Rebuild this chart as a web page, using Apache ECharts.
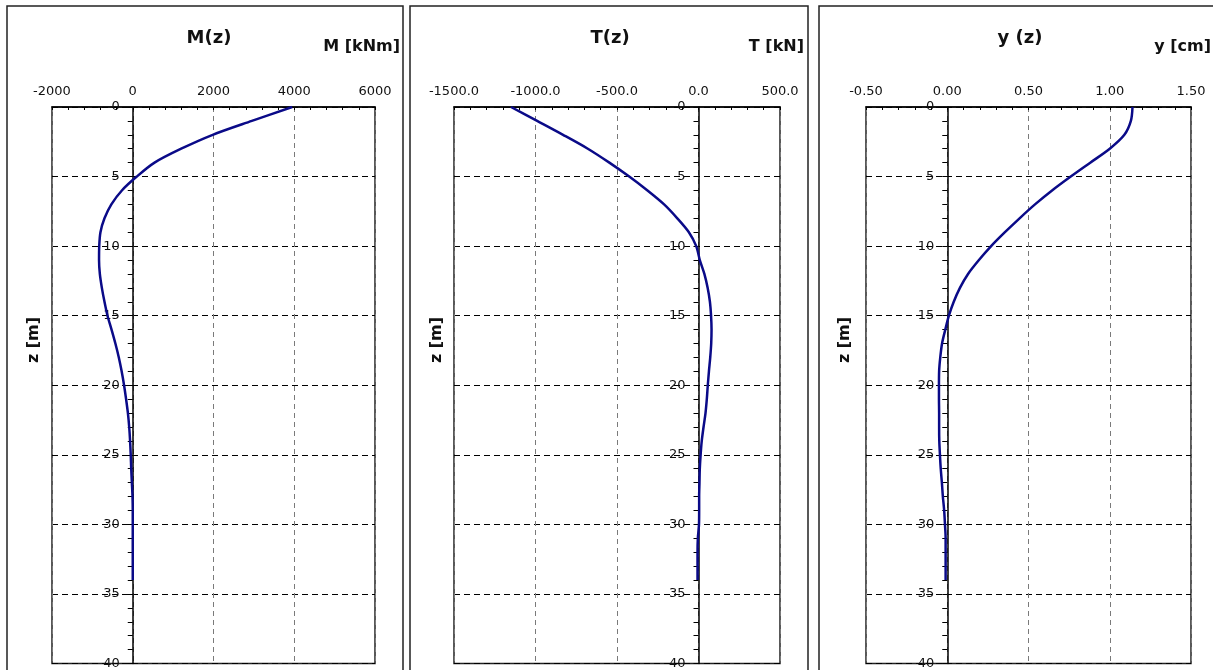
<!DOCTYPE html>
<html>
<head>
<meta charset="utf-8">
<script src="https://cdn.jsdelivr.net/npm/echarts@6/dist/echarts.min.js"></script>
<style>
html,body{margin:0;padding:0;background:#fff;}
#chart{width:1213px;height:670px;}
</style>
</head>
<body>
<div id="chart"></div>
<script>
// depth z [m]
const zDepth = [0,1,2,3,4,5,6,7,8,9,10,11,12,13,14,15,16,17,18,19,20,21,22,23,24,25,26,27,28,29,30,31,32,33,34];
// bending moment M [kNm]
const momentM = [3950,2950,1980,1200,540,100,-270,-530,-700,-800,-830,-835,-815,-765,-700,-625,-525,-430,-345,-275,-215,-165,-120,-88,-66,-50,-38,-22,-6,0,0,0,0,0,0];
// shear T [kN]
const shearT = [-1150,-990,-831,-679,-547,-425,-313,-211,-130,-59,-14,8,36,56,70,77,80,78,72,64,57,51,43,31,20,13,8,6,4,4,3,-4,-6,-6,-6];
// displacement y [cm]
const dispY = [1.14,1.13,1.09,1.00,0.88,0.76,0.645,0.54,0.445,0.355,0.27,0.195,0.128,0.078,0.04,0.01,-0.012,-0.032,-0.043,-0.05,-0.051,-0.051,-0.05,-0.05,-0.049,-0.045,-0.04,-0.033,-0.027,-0.019,-0.014,-0.01,-0.01,-0.01,-0.01];

// axis ranges [min, max, interval]
const mAxis = [-2000, 6000, 2000];
const tAxis = [-1500, 500, 500];
const yAxisRange = [-0.5, 1.5, 0.5];
const zAxis = [0, 40, 5];

const panelTitles = ['M(z)', 'T(z)', 'y (z)'];
const unitLabels = ['M [kNm]', 'T [kN]', 'y [cm]'];
const depthLabel = 'z [m]';

const FONT = '"DejaVu Sans", Verdana, sans-serif';
const lineColor = '#0a0a88';

const grids = [
  {left: 52, top: 107, width: 323, height: 559},
  {left: 454, top: 107, width: 326, height: 559},
  {left: 866, top: 107, width: 325, height: 559}
];
const frames = [{x: 7, w: 396}, {x: 410, w: 398}, {x: 819, w: 398}];
const titleX = [209, 610, 1020];
const unitRight = [400, 804, 1211];
const zLabelX = [34, 437, 845];
const xRanges = [mAxis, tAxis, yAxisRange];

function xAxisDef(idx, range, decimals) {
  return {
    type: 'value', gridIndex: idx, position: 'top',
    min: range[0], max: range[1], interval: range[2],
    axisLine: {onZero: false, lineStyle: {color: '#000', width: 1.5}},
    axisTick: {show: true, inside: true, length: 3, lineStyle: {color: '#000'}},
    minorTick: {show: true, splitNumber: 5, length: 3, lineStyle: {color: '#000'}},
    axisLabel: {margin: 9, fontSize: 13, fontFamily: FONT, color: '#111',
      formatter: v => decimals === null ? String(v) : v.toFixed(decimals)},
    splitLine: {show: true, lineStyle: {color: '#7a7a7a', width: 1, type: [5, 4]}}
  };
}
function yAxisDef(idx) {
  const r = xRanges[idx];
  // place the depth axis on the zero of the value axis
  const zeroOffset = -(0 - r[0]) / (r[1] - r[0]) * grids[idx].width;
  return {
    type: 'value', gridIndex: idx, inverse: true, position: 'left', offset: zeroOffset,
    min: zAxis[0], max: zAxis[1], interval: zAxis[2],
    axisLine: {onZero: false, lineStyle: {color: '#000', width: 1.5}},
    axisTick: {show: true, length: 5, lineStyle: {color: '#000'}},
    minorTick: {show: true, splitNumber: 5, length: 5, lineStyle: {color: '#000'}},
    axisLabel: {margin: 13, fontSize: 13, fontFamily: FONT, color: '#111'},
    splitLine: {show: true, lineStyle: {color: '#000', width: 1.2, type: [6, 4]}}
  };
}
function pairs(values) {
  return zDepth.map((z, i) => [values[i], z]);
}

const graphics = [];
frames.forEach(f => graphics.push({type: 'rect', silent: true, z: 0,
  shape: {x: f.x, y: 6, width: f.w, height: 720},
  style: {fill: 'none', stroke: '#222', lineWidth: 1.5}}));
panelTitles.forEach((t, i) => graphics.push({type: 'text', x: titleX[i], y: 38,
  style: {text: t, font: 'bold 18px ' + FONT, fill: '#111', align: 'center', verticalAlign: 'middle', textAlign: 'center', textVerticalAlign: 'middle'}}));
unitLabels.forEach((t, i) => graphics.push({type: 'text', x: unitRight[i], y: 47,
  style: {text: t, font: 'bold 16px ' + FONT, fill: '#111', align: 'right', verticalAlign: 'middle', textAlign: 'right', textVerticalAlign: 'middle'}}));
zLabelX.forEach(x => graphics.push({type: 'text', x: x, y: 340, rotation: Math.PI / 2,
  style: {text: depthLabel, font: 'bold 16px ' + FONT, fill: '#111', align: 'center', verticalAlign: 'middle', textAlign: 'center', textVerticalAlign: 'middle'}}));

const option = {
  animation: false,
  backgroundColor: '#fff',
  grid: grids.map(g => Object.assign({show: true, borderColor: '#222', borderWidth: 1.5, backgroundColor: 'transparent'}, g)),
  xAxis: [xAxisDef(0, mAxis, null), xAxisDef(1, tAxis, 1), xAxisDef(2, yAxisRange, 2)],
  yAxis: [yAxisDef(0), yAxisDef(1), yAxisDef(2)],
  series: [momentM, shearT, dispY].map((vals, i) => ({
    type: 'line', xAxisIndex: i, yAxisIndex: i, data: pairs(vals),
    showSymbol: false, smooth: 0.3, z: 5,
    lineStyle: {color: lineColor, width: 2.5}
  })),
  graphic: graphics
};

const chart = echarts.init(document.getElementById('chart'), null, {renderer: 'canvas'});
chart.setOption(option);
</script>
</body>
</html>
